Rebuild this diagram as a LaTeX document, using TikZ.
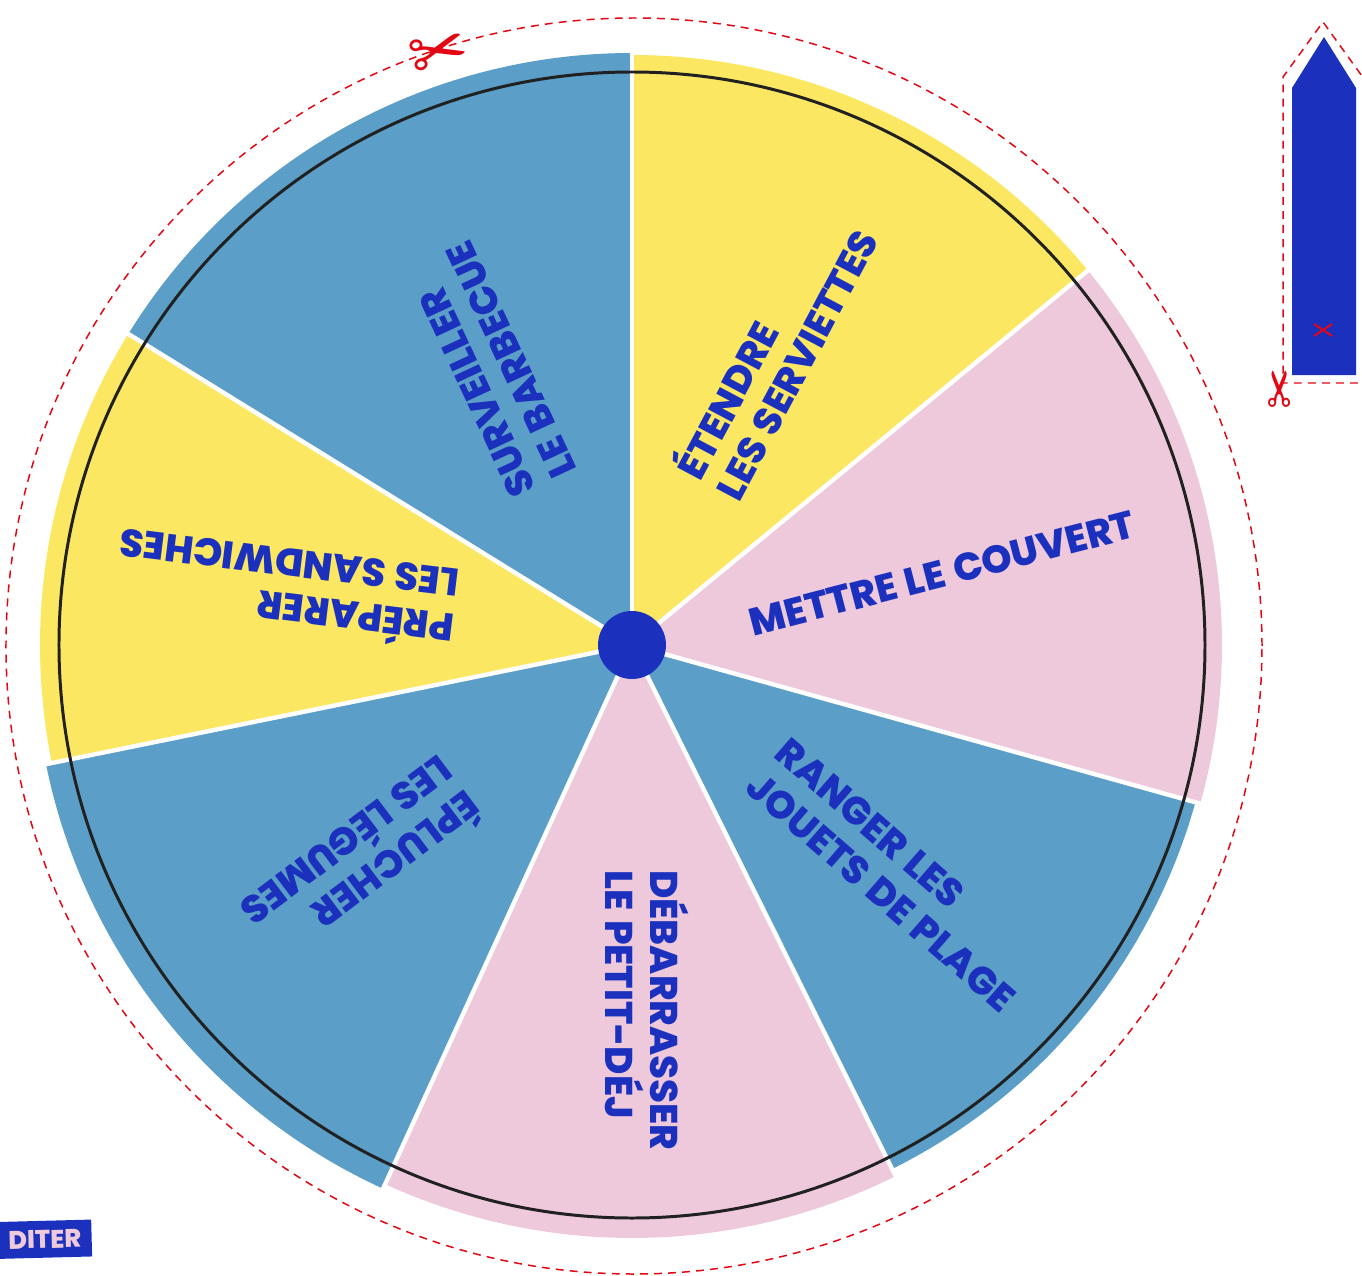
\documentclass[tikz,border=0pt]{standalone}
\usepackage{fontspec}
\setmainfont{Poppins}[BoldFont={* ExtraBold}, WordSpace=1.3]
\newfontfamily\symfont{DejaVu Sans}
\definecolor{wheelblue}{HTML}{5B9EC7}
\definecolor{wheelyellow}{HTML}{FCE762}
\definecolor{wheelpink}{HTML}{EEC9DB}
\definecolor{inkblue}{HTML}{1B31BD}
\definecolor{cutred}{HTML}{E30613}
\tikzset{
  task/.style={text=inkblue, font=\bfseries\fontsize{22}{25.5}\selectfont, align=left, anchor=west, inner sep=0pt},
  cutline/.style={cutred, line width=0.85pt, dash pattern=on 4.5pt off 3.5pt},
  scissors/.style={text=cutred, inner sep=0pt, font=\symfont\fontsize{40}{40}\selectfont},
}

\begin{document}
\begin{tikzpicture}[x=0.02cm,y=0.02cm]
        \useasboundingbox (-632,-630) rectangle (730,645);

        % wheel sectors
        \foreach \a/\b/\col/\r in {90/148.3/wheelblue/592, 39.4/90/wheelyellow/590,
            -15.6/39.4/wheelpink/590, -63.6/-15.6/wheelblue/585, -114.6/-63.6/wheelpink/593,
            -168.5/-114.6/wheelblue/598, 148.3/191.5/wheelyellow/592}{
          \fill[\col] (0,0) -- (\a:\r) arc[start angle=\a, end angle=\b, radius=\r] -- cycle;
        }
        \foreach \a in {90,39.4,-15.6,-63.6,-114.6,-168.5,148.3}{
          \draw[white, line width=2.5pt] (0,0) -- (\a:615);
        }

        \fill[inkblue] (0,0) circle [radius=34];
        \draw[black!87, line width=1.7pt] (0,0) circle [radius=573];
        \draw[cutline] (2,-1) circle [radius=628];

        \node[task, rotate=115] (surveiller) at (-87,160) {SURVEILLER\\LE BARBECUE};
        \node[task, rotate=62] (etendre) at (71,161) {ÉTENDRE\\LES SERVIETTES};
        \node[task, rotate=14.5] (couvert) at (118,22) {METTRE LE COUVERT};
        \node[task, rotate=-41] (ranger) at (135,-118) {RANGER LES\\JOUETS DE PLAGE};
        \node[task, rotate=-90] (debarrasser) at (15,-225) {DÉBARRASSER\\LE PETIT-DÉJ};
        \node[task, rotate=-143] (eplucher) at (-168,-141) {ÉPLUCHER\\LES LÉGUMES};
        \node[task, rotate=173] (preparer) at (-176,34) {PRÉPARER\\LES SANDWICHES};

        % pointer to cut out
        \fill[inkblue] (660,270) -- (660,557) -- (692,608) -- (724,557) -- (724,270) -- cycle;
        \draw[cutline] (740,262) -- (651,262) -- (651,568) -- (691,623) -- (740,555);
        \draw[cutred, line width=1.1pt] (682,309) -- (700,321) (682,321) -- (700,309);

        \node[scissors, rotate=15] (topcut) at (-192,590) {✂};
        \node[scissors, rotate=90, font=\symfont\fontsize{28}{28}\selectfont] (sidecut) at (651,256) {✂};

        \node[fill=inkblue, text=wheelpink, font=\bfseries\fontsize{14.5}{14.5}\selectfont,
              rotate=1.5, anchor=east, inner xsep=6pt, minimum height=21pt] (editer) at (-540,-593) {DITER};
\end{tikzpicture}
\end{document}
